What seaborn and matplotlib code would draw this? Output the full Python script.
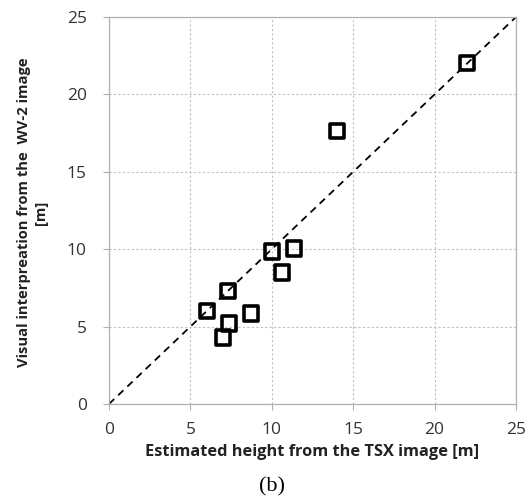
import matplotlib
matplotlib.use("Agg")
import matplotlib.pyplot as plt
import seaborn as sns
import pandas as pd

# Data
tsx_height = [22.0, 14.0, 10.0, 11.35, 10.65, 7.3, 6.0, 8.7, 7.35, 7.0]
wv2_height = [22.05, 17.65, 9.85, 10.05, 8.5, 7.3, 6.0, 5.85, 5.2, 4.3]
ticks = [0, 5, 10, 15, 20, 25]
identity = [0, 25]

df = pd.DataFrame({"tsx": tsx_height, "wv2": wv2_height})

sns.set_style("white")
plt.rcParams["font.family"] = ["Open Sans", "DejaVu Sans"]

fig = plt.figure(figsize=(5.30, 4.99), dpi=100)
ax = fig.add_axes([109 / 530, 1 - 404 / 499, (516 - 109) / 530, (404 - 17) / 499])

sns.lineplot(x=identity, y=identity, ax=ax, color="black", linestyle=(0, (4, 3)),
             linewidth=1.3, zorder=2)
sns.scatterplot(data=df, x="tsx", y="wv2", ax=ax, marker="s", s=105,
                facecolor="none", edgecolor="black", linewidth=2.6, zorder=3)

ax.set_xlim(0, 25)
ax.set_ylim(0, 25)
ax.set_xticks(ticks)
ax.set_yticks(ticks)
ax.grid(True, color="#c0c0c0", linestyle=(0, (2, 2)), linewidth=0.8)
for sp in ax.spines.values():
    sp.set_color("#b0b0b0")
    sp.set_linewidth(0.9)
ax.tick_params(axis="both", which="both", direction="out", length=4, width=0.8,
               color="#b0b0b0", labelsize=12.5, labelcolor="#333333",
               bottom=True, left=True)
ax.tick_params(axis="x", pad=9)
ax.tick_params(axis="y", pad=12)

ax.set_xlabel("Estimated height from the TSX image [m]", fontsize=11.8,
              fontweight="bold", color="#222222", labelpad=4)
ax.set_ylabel("Visual interpreation from the  WV-2 image\n[m]", fontsize=10.6,
              fontweight="bold", color="#222222", linespacing=1.25)
ax.yaxis.set_label_coords(-0.15, 0.495)

fig.text(272 / 530, 1 - 487 / 499, "(b)", ha="center", va="center",
         fontsize=16, family="Liberation Serif", color="black")

fig.savefig("out.png", dpi=100)
